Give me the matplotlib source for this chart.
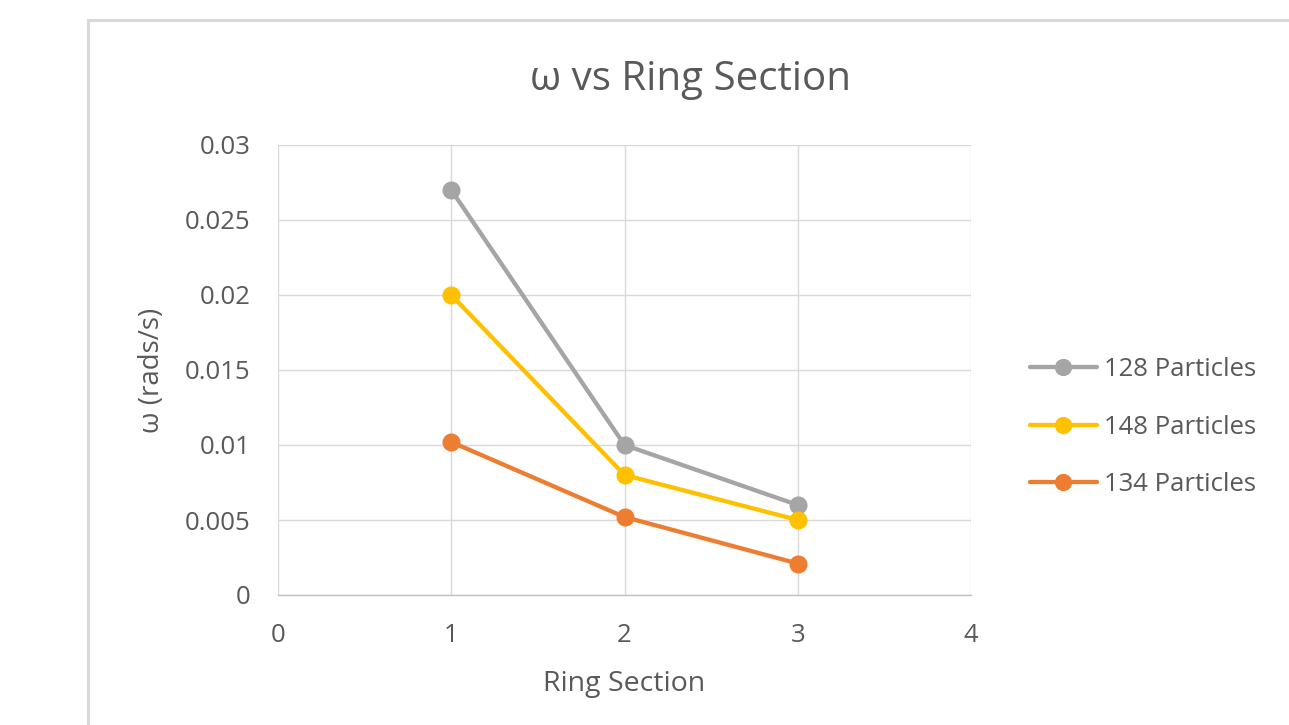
import matplotlib
matplotlib.use("Agg")
import matplotlib.pyplot as plt
from matplotlib.patches import Rectangle

plt.rcParams['font.family'] = ['Open Sans', 'DejaVu Sans']

# ring sections and angular velocity per particle count
sections = [1, 2, 3]
w_128 = [0.027, 0.010, 0.006]
w_148 = [0.020, 0.008, 0.005]
w_134 = [0.0102, 0.0052, 0.0021]

series = [
    ("128 Particles", w_128, "#a5a5a5"),
    ("148 Particles", w_148, "#ffc000"),
    ("134 Particles", w_134, "#ed7d31"),
]

text_col = "#595959"
grid_col = "#d9d9d9"

fig = plt.figure(figsize=(12.89, 7.25), dpi=100)
fig.patch.set_facecolor("white")

# outer chart frame, runs off the right and bottom edges
frame = Rectangle((88 / 1289, -0.1), 1.2, 1 - 20 / 725 + 0.1,
                  transform=fig.transFigure, fill=False,
                  edgecolor=grid_col, linewidth=2.2, clip_on=False)
fig.patches.append(frame)

ax = fig.add_axes([278 / 1289, 1 - 595 / 725, 693 / 1289, 450 / 725])

for name, vals, col in series:
    ax.plot(sections, vals, color=col, linewidth=3.1, marker="o",
            markersize=12, label=name, solid_capstyle="round", zorder=3)

ax.set_xlim(0, 4)
ax.set_ylim(0, 0.03)
ax.set_xticks([0, 1, 2, 3, 4])
ax.set_yticks([0, 0.005, 0.01, 0.015, 0.02, 0.025, 0.03])
ax.set_yticklabels(["0", "0.005", "0.01", "0.015", "0.02", "0.025", "0.03"])

ax.grid(True, color=grid_col, linewidth=1)
ax.set_axisbelow(True)
for s in ["top", "right", "left"]:
    ax.spines[s].set_visible(False)
ax.spines["bottom"].set_color("#bfbfbf")
ax.spines["bottom"].set_linewidth(1)
ax.spines["bottom"].set_zorder(2)

ax.tick_params(axis="both", length=0, labelsize=18.5, labelcolor=text_col)
ax.tick_params(axis="y", pad=20)
ax.tick_params(axis="x", pad=20)

fig.text(691 / 1289, 1 - 80 / 725, "ω vs Ring Section", fontsize=29,
         color=text_col, ha="center", va="center")
fig.text(624 / 1289, 1 - 684 / 725, "Ring Section", fontsize=20.5,
         color=text_col, ha="center", va="center")
fig.text(152 / 1289, 1 - 370 / 725, "ω (rads/s)", fontsize=20,
         color=text_col, ha="center", va="center", rotation=90)

leg = ax.legend(loc="center left", bbox_to_anchor=(752 / 693, 168 / 450),
                frameon=False, borderpad=0, borderaxespad=0,
                fontsize=18.5, labelcolor=text_col, handlelength=2.6,
                handletextpad=0.28, labelspacing=1.25, markerscale=0.95)

fig.savefig("out.png", dpi=100, facecolor="white")
